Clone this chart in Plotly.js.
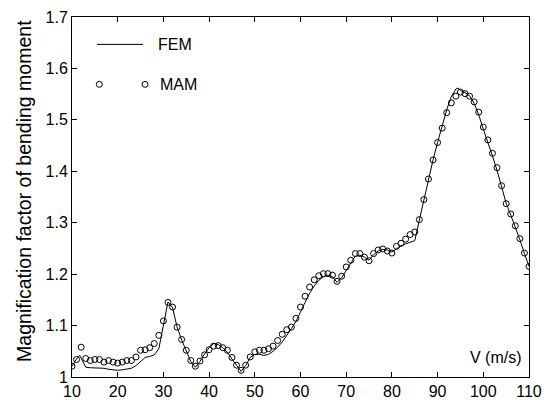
<!DOCTYPE html>
<html>
<head>
<meta charset="utf-8">
<script src="https://cdn.plot.ly/plotly-3.0.1.min.js"></script>
<style>html,body{margin:0;padding:0;background:#fff;}#chart{width:544px;height:400px;}</style>
</head>
<body>
<div id="chart"></div>
<script>
// MAM (circles), one point per m/s from 10 to 110
const mamSpeed = [10,11,12,13,14,15,16,17,18,19,20,21,22,23,24,25,26,27,28,29,30,31,32,33,34,35,36,37,38,39,40,41,42,43,44,45,46,47,48,49,50,51,52,53,54,55,56,57,58,59,60,61,62,63,64,65,66,67,68,69,70,71,72,73,74,75,76,77,78,79,80,81,82,83,84,85,86,87,88,89,90,91,92,93,94,95,96,97,98,99,100,101,102,103,104,105,106,107,108,109,110];
const mamValue = [1.021,1.034,1.058,1.036,1.032,1.034,1.034,1.029,1.032,1.029,1.027,1.029,1.032,1.032,1.039,1.052,1.053,1.057,1.065,1.081,1.109,1.145,1.136,1.097,1.073,1.052,1.032,1.021,1.031,1.043,1.053,1.060,1.061,1.057,1.052,1.038,1.023,1.013,1.023,1.039,1.049,1.052,1.052,1.055,1.060,1.071,1.083,1.092,1.097,1.114,1.136,1.157,1.175,1.189,1.197,1.201,1.201,1.198,1.186,1.196,1.214,1.227,1.240,1.240,1.233,1.226,1.240,1.247,1.249,1.245,1.241,1.254,1.260,1.268,1.277,1.282,1.306,1.345,1.385,1.422,1.456,1.484,1.514,1.533,1.546,1.554,1.551,1.546,1.535,1.515,1.486,1.461,1.435,1.407,1.372,1.337,1.317,1.294,1.269,1.241,1.215];

// FEM (solid line)
const femSpeed = [10,11,11.7,13,14,15,16,17,18,19,20,21,22,23,24,25,26,27,28,29,30,31,32,33,34,35,36,37,38,39,40,41,42,43,44,45,46,47,48,49,50,51,52,53,54,55,56,57,58,59,60,61,62,63,64,65,66,67,68,69,70,71,72,73,74,75,76,77,78,79,80,81,82,83,84,85,86,87,88,89,90,91,92,93,94,94.5,95,96,97,98,99,100,101,102,103,104,105,106,107,108,109,110];
const femValue = [1.021,1.035,1.042,1.019,1.018,1.018,1.017,1.017,1.015,1.014,1.013,1.014,1.015,1.017,1.022,1.030,1.038,1.040,1.043,1.055,1.100,1.146,1.135,1.097,1.072,1.050,1.030,1.019,1.030,1.045,1.057,1.065,1.063,1.057,1.048,1.035,1.022,1.011,1.022,1.038,1.044,1.044,1.042,1.044,1.050,1.058,1.068,1.080,1.094,1.108,1.125,1.145,1.163,1.177,1.188,1.195,1.198,1.195,1.184,1.193,1.207,1.222,1.235,1.237,1.233,1.227,1.238,1.245,1.248,1.247,1.243,1.249,1.255,1.259,1.262,1.265,1.305,1.345,1.385,1.422,1.456,1.488,1.520,1.545,1.560,1.562,1.557,1.553,1.547,1.532,1.510,1.482,1.457,1.430,1.402,1.370,1.338,1.315,1.292,1.267,1.240,1.215];

const xTicks = [10,20,30,40,50,60,70,80,90,100,110];
const yTicks = [1,1.1,1.2,1.3,1.4,1.5,1.6,1.7];
const yTickText = ['1','1.1','1.2','1.3','1.4','1.5','1.6','1.7'];
const seriesNames = ['FEM','MAM'];
const xLabel = 'V (m/s)';
const yLabel = 'Magnification factor of bending moment';

const FONT = 'Arial, "Liberation Sans", sans-serif';

const traces = [
  {x: femSpeed, y: femValue, mode: 'lines', name: seriesNames[0],
   line: {color: '#000', width: 1}, showlegend: false},
  {x: mamSpeed, y: mamValue, mode: 'markers', name: seriesNames[1],
   marker: {symbol: 'circle-open', size: 6, color: '#000', line: {width: 1, color: '#000'}},
   showlegend: false}
];

const axisCommon = {
  showgrid: false, zeroline: false, showline: true, linecolor: '#000', linewidth: 1,
  mirror: 'ticks', ticks: 'inside', ticklen: 5, tickwidth: 1, tickcolor: '#000',
  tickfont: {family: FONT, size: 16, color: '#000'}
};

const layout = {
  width: 544, height: 400,
  margin: {l: 72, r: 15, t: 17, b: 23, pad: 0},
  paper_bgcolor: '#fff', plot_bgcolor: '#fff',
  showlegend: false,
  xaxis: Object.assign({}, axisCommon, {range: [10, 110], tickvals: xTicks, ticktext: xTicks.map(String)}),
  yaxis: Object.assign({}, axisCommon, {range: [1, 1.7], tickvals: yTicks, ticktext: yTickText}),
  shapes: [
    {type: 'line', xref: 'paper', yref: 'paper', x0: 0.0547, x1: 0.1554, y0: 0.924, y1: 0.924,
     line: {color: '#000', width: 1}},
    {type: 'circle', xref: 'paper', yref: 'paper', xsizemode: 'pixel', ysizemode: 'pixel',
     xanchor: 0.0597, yanchor: 0.813, x0: -3, x1: 3, y0: -3, y1: 3, line: {color: '#000', width: 1}},
    {type: 'circle', xref: 'paper', yref: 'paper', xsizemode: 'pixel', ysizemode: 'pixel',
     xanchor: 0.1597, yanchor: 0.813, x0: -3, x1: 3, y0: -3, y1: 3, line: {color: '#000', width: 1}}
  ],
  annotations: [
    {xref: 'paper', yref: 'paper', x: 0.1838, y: 0.924, xanchor: 'left', yanchor: 'middle',
     text: seriesNames[0], showarrow: false, font: {family: FONT, size: 16, color: '#000'}},
    {xref: 'paper', yref: 'paper', x: 0.1881, y: 0.813, xanchor: 'left', yanchor: 'middle',
     text: seriesNames[1], showarrow: false, font: {family: FONT, size: 16, color: '#000'}},
    {xref: 'paper', yref: 'paper', x: 0.989, y: 0.053, xanchor: 'right', yanchor: 'middle',
     text: xLabel, showarrow: false, font: {family: FONT, size: 16, color: '#000'}},
    {xref: 'paper', yref: 'paper', x: -0.105, y: 0.517, xanchor: 'center', yanchor: 'middle',
     textangle: -90, text: yLabel, showarrow: false, font: {family: FONT, size: 19.5, color: '#000'}}
  ]
};

Plotly.newPlot('chart', traces, layout, {staticPlot: true, displayModeBar: false});
</script>
</body>
</html>
